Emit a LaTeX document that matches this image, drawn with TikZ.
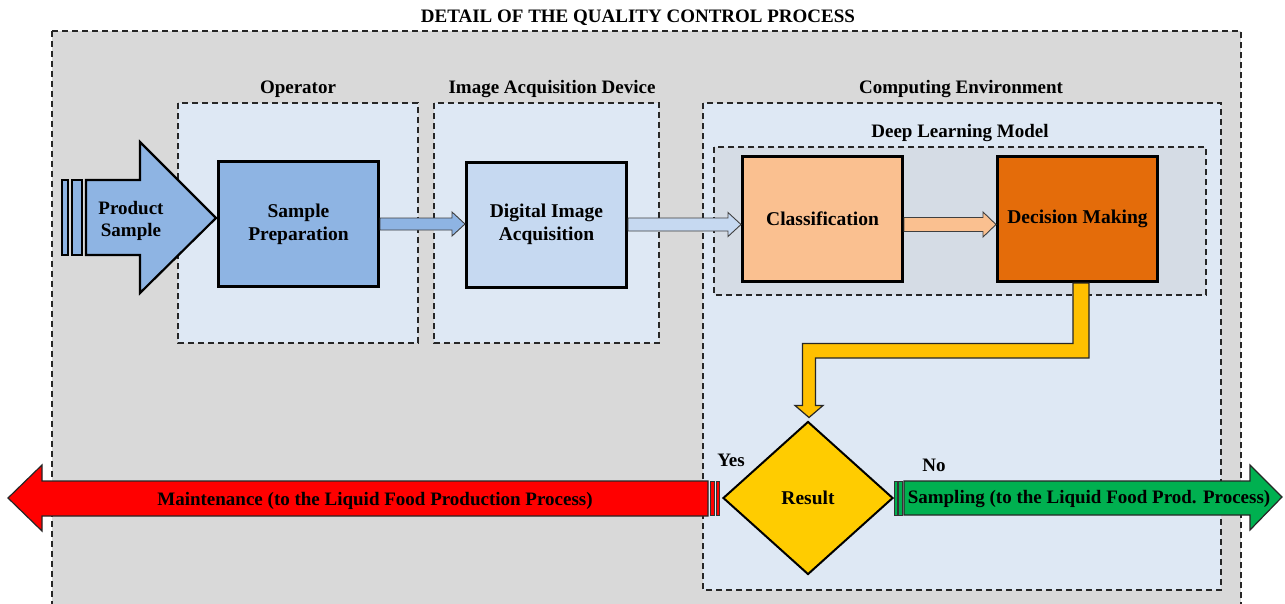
\documentclass[tikz,border=0pt]{standalone}
\usepackage{fontspec}
\setmainfont{Liberation Serif}
\usetikzlibrary{calc,shapes.geometric}

\definecolor{bggray}{HTML}{D9D9D9}
\definecolor{zoneblue}{HTML}{DEE8F4}
\definecolor{dlgray}{HTML}{D5DCE5}
\definecolor{prepblue}{HTML}{8EB4E3}
\definecolor{digblue}{HTML}{C6D9F1}
\definecolor{classorange}{HTML}{FAC090}
\definecolor{decorange}{HTML}{E46C0A}
\definecolor{flowyellow}{HTML}{FFC000}
\definecolor{resultyellow}{HTML}{FFCC00}
\definecolor{stopred}{HTML}{FF0000}
\definecolor{gogreen}{HTML}{00B050}
\definecolor{edgegray}{HTML}{3F3F3F}

% horizontal block arrow: style, tail point, tip point, shaft half width, head half width
\newcommand\blockarrow[5]{%
  \draw[#1] ($(#2)+(0,-#4)$) -- ($(#3)+(-13,-#4)$) -- ($(#3)+(-13,-#5)$) -- (#3)
    -- ($(#3)+(-13,#5)$) -- ($(#3)+(-13,#4)$) -- ($(#2)+(0,#4)$) -- cycle;}

\tikzset{
  lbl/.style={font=\bfseries\fontsize{19}{22}\selectfont, inner sep=0pt, align=center, yshift=-1.5pt},
  zone/.style={draw=black!85, dashed, dash pattern=on 6pt off 4pt, line width=1.3pt},
  stepbox/.style={draw=black, line width=3pt, inner sep=0pt,
    minimum width=160pt, minimum height=125pt,
    font=\bfseries\fontsize{19.5}{23}\selectfont, align=center},
  thinarrow/.style={draw=edgegray, line width=0.9pt, line join=miter},
  bigarrow/.style={draw=black!85, line width=1.2pt, line join=miter},
  stripe/.style={draw=black!80, line width=0.7pt},
}

\begin{document}
\begin{tikzpicture}[x=1pt,y=-1pt]
\useasboundingbox (0,0) rectangle (1285,603);
\clip (0,0) rectangle (1285,603);
\fill[white] (0,0) rectangle (1285,603);

% title and outer process area
\node[lbl] (title) at (638,16) {DETAIL OF THE QUALITY CONTROL PROCESS};
\path[zone, fill=bggray] (52,31) rectangle (1241,640);

% zones
\path[zone, fill=zoneblue] (178,103) rectangle (418,343);
\node[lbl] (opl) at (298,88) {Operator};
\path[zone, fill=zoneblue] (434,103) rectangle (659,343);
\node[lbl] (iadl) at (552,88) {Image Acquisition Device};
\path[zone, fill=zoneblue] (703,103) rectangle (1221,590);
\node[lbl] (cel) at (961,88) {Computing Environment};
\path[zone, fill=dlgray] (714,147) rectangle (1206,295);
\node[lbl] (dll) at (960,132) {Deep Learning Model};

% process steps
\node[stepbox, fill=prepblue] (prep) at (298.5,224) {Sample\\Preparation};
\node[stepbox, fill=digblue] (dig) at (546.5,224.5) {Digital Image\\Acquisition};
\node[stepbox, fill=classorange] (class) at (822.5,219) {Classification};
\node[stepbox, fill=decorange] (dec) at (1077.5,219) {Decision Making};

\node[diamond, draw=black, line width=2pt, fill=resultyellow, inner sep=0pt,
  minimum width=170pt, minimum height=153pt, aspect=1.1,
  font=\bfseries\fontsize{19.5}{23}\selectfont] (res) at (808,498) {Result};

% product sample striped arrow
\coordinate (pstip) at (216,218);
\draw[black, line width=2.2pt, fill=prepblue] (62,180) rectangle (68,255);
\draw[black, line width=2.2pt, fill=prepblue] (72,180) rectangle (82,255);
\draw[black, line width=2.2pt, fill=prepblue, line join=miter]
  (86,180) -- (140,180) -- (140,142) -- (pstip) -- (140,293) -- (140,255) -- (86,255) -- cycle;
\node[lbl] (psl) at (131,219) {Product\\Sample};

% connectors between steps
\coordinate (t1) at (prep.east -| dig.west);
\coordinate (t2) at (dig.east -| class.west);
\coordinate (s3) at (dig.east -| class.east);
\coordinate (t3) at (dig.east -| dec.west);
\blockarrow{thinarrow, fill=prepblue}{prep.east}{t1}{6}{12}
\blockarrow{thinarrow, fill=digblue}{dig.east}{t2}{6.5}{12}
\blockarrow{thinarrow, fill=classorange}{s3}{t3}{7}{12.5}

% decision to result
\coordinate (rtip) at ($(res.north)+(1,-3)$);
\draw[bigarrow, fill=flowyellow]
  ($(dec.south)+(-4.5,0)$) |- ($(rtip)+(-6.5,-74)$) -- ($(rtip)+(-6.5,-12)$)
  -- ($(rtip)+(-14,-12)$) -- (rtip) -- ($(rtip)+(14,-12)$) -- ($(rtip)+(6.5,-12)$)
  |- ($(dec.south)+(11.5,75)$) -- ($(dec.south)+(11.5,0)$) -- cycle;

% yes branch
\coordinate (redtip) at (8,498);
\coordinate (redtail) at ($(res.west)+(-14,0)$);
\draw[bigarrow, fill=stopred] (redtail |- 0,481) -- (42,481) -- (42,465) -- (redtip)
  -- (42,531) -- (42,516) -- (redtail |- 0,516) -- cycle;
\draw[stripe, fill=stopred] ($(res.west)+(-12,-17)$) rectangle ($(res.west)+(-7.5,17)$);
\draw[stripe, fill=stopred] ($(res.west)+(-6,-17)$) rectangle ($(res.west)+(-3,17)$);
\node[lbl] (ml) at (375,499) {Maintenance (to the Liquid Food Production Process)};
\node[lbl] (yes) at (731,459) {Yes};

% no branch
\coordinate (greentip) at (1282,497);
\coordinate (greentail) at ($(res.east)+(10,0)$);
\draw[stripe, fill=gogreen] ($(res.east)+(0,-17)$) rectangle ($(res.east)+(3,17)$);
\draw[stripe, fill=gogreen] ($(res.east)+(4.5,-17)$) rectangle ($(res.east)+(8.5,17)$);
\draw[bigarrow, fill=gogreen] (greentail |- 0,481) -- (1250,481) -- (1250,465) -- (greentip)
  -- (1250,530) -- (1250,515) -- (greentail |- 0,515) -- cycle;
\node[lbl] (sl) at (1089,497) {Sampling (to the Liquid Food Prod. Process)};
\node[lbl] (no) at (934,464) {No};
\end{tikzpicture}
\end{document}
